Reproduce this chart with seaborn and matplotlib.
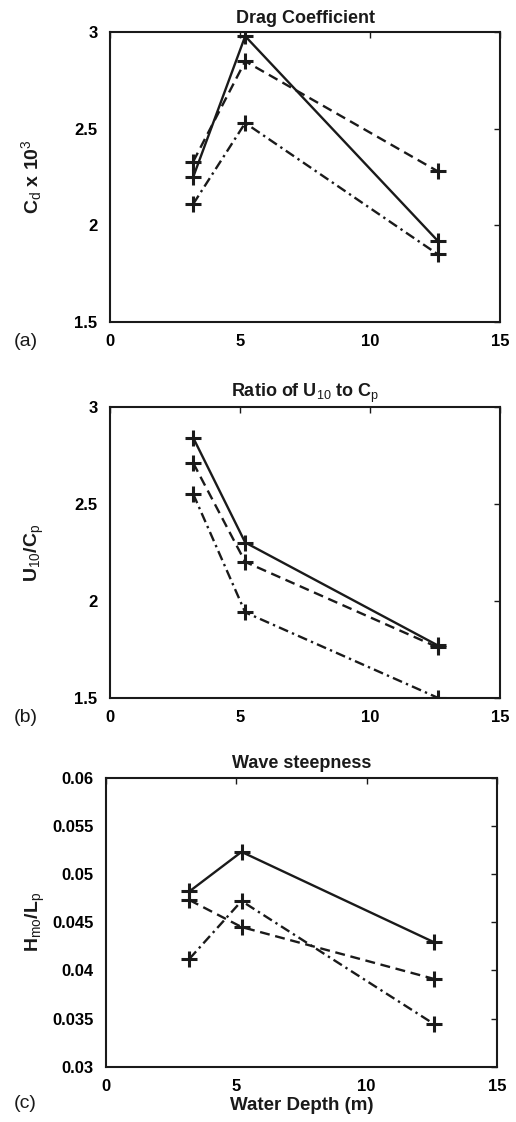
import matplotlib
matplotlib.use("Agg")
import matplotlib.pyplot as plt
import seaborn as sns
import numpy as np

sns.set_theme(style="white")
plt.rcParams['font.family'] = ['Liberation Sans', 'DejaVu Sans']
plt.rcParams['mathtext.fontset'] = 'custom'
plt.rcParams['mathtext.rm'] = 'Liberation Sans'
plt.rcParams['mathtext.it'] = 'Liberation Sans'
plt.rcParams['mathtext.bf'] = 'Liberation Sans:bold'
for key in ['text.color', 'axes.labelcolor', 'xtick.color', 'ytick.color', 'axes.edgecolor']:
    plt.rcParams[key] = 'black'

depth = [3.2, 5.2, 12.6]

# Panel (a) Drag coefficient x 10^3
cd_solid = [2.25, 2.98, 1.92]
cd_dashed = [2.33, 2.85, 2.28]
cd_dashdot = [2.11, 2.53, 1.85]

# Panel (b) U10 / Cp
u_solid = [2.84, 2.30, 1.77]
u_dashed = [2.71, 2.20, 1.76]
u_dashdot = [2.55, 1.94, 1.50]

# Panel (c) Wave steepness
h_solid = [0.0482, 0.0523, 0.0429]
h_dashed = [0.0473, 0.0445, 0.0391]
h_dashdot = [0.0412, 0.0472, 0.0344]

titles = ["Drag Coefficient", r"Ratio of U$_{10}$ to C$_p$", "Wave steepness"]
ylabels = [r"C$_d$ x 10$^3$", r"U$_{10}$/C$_p$", r"H$_{mo}$/L$_p$"]
panel_tags = ["(a)", "(b)", "(c)"]
xticks = [0, 5, 10, 15]
yticks_list = [[1.5, 2, 2.5, 3], [1.5, 2, 2.5, 3], [0.03, 0.035, 0.04, 0.045, 0.05, 0.055, 0.06]]
yticklabels_list = [["1.5", "2", "2.5", "3"], ["1.5", "2", "2.5", "3"],
                    ["0.03", "0.035", "0.04", "0.045", "0.05", "0.055", "0.06"]]
data = [(cd_solid, cd_dashed, cd_dashdot), (u_solid, u_dashed, u_dashdot), (h_solid, h_dashed, h_dashdot)]

W, H = 516, 1122
fig = plt.figure(figsize=(W / 100, H / 100), dpi=100)

boxes = [(110, 32.3, 500, 321.7), (110, 406.7, 500, 697.7), (106, 777.7, 497, 1066.7)]
tag_pos = [(14, 341), (14, 718), (14, 1103)]
ylabel_x = [44, 46, 47]

styles = [dict(linestyle='-'), dict(linestyle=(0, (4.2, 2.4))), dict(linestyle=(0, (4.2, 1.8, 1.0, 1.8)))]

for i in range(3):
    l, t, r, b = boxes[i]
    ax = fig.add_axes([l / W, 1 - b / H, (r - l) / W, (b - t) / H])
    for vals, st in zip(data[i], styles):
        sns.lineplot(x=depth, y=vals, ax=ax, color='k', linewidth=1.7, marker='+',
                     markersize=11, markeredgewidth=2.2, markeredgecolor='k',
                     errorbar=None, sort=False, **st)
    ax.set_xlim(0, 15)
    yt = yticks_list[i]
    ax.set_ylim(yt[0], yt[-1])
    ax.set_xticks(xticks)
    ax.set_xticklabels([str(v) for v in xticks], fontsize=12, fontweight='bold')
    ax.set_yticks(yt)
    ax.set_yticklabels(yticklabels_list[i], fontsize=12, fontweight='bold')
    ax.tick_params(axis='x', direction='in', top=True, length=4, width=1, color='k', pad=9)
    ax.tick_params(axis='y', direction='in', right=True, length=4, width=1, color='k', pad=9)
    for s in ax.spines.values():
        s.set_color('k')
        s.set_linewidth(1.5)
    ax.set_title(titles[i], fontsize=13, fontweight='bold', pad=7, color='k')
    ax.set_ylabel(ylabels[i], fontsize=14, fontweight='bold', color='k')
    ax.yaxis.set_label_coords((ylabel_x[i] - l) / (r - l), 0.5)
    if i == 2:
        ax.set_xlabel("Water Depth (m)", fontsize=13.5, fontweight='bold', labelpad=2, color='k')
    fig.text(tag_pos[i][0] / W, 1 - tag_pos[i][1] / H, panel_tags[i], fontsize=14,
             ha='left', va='center', color='k')

fig.savefig("out.png", dpi=100)
